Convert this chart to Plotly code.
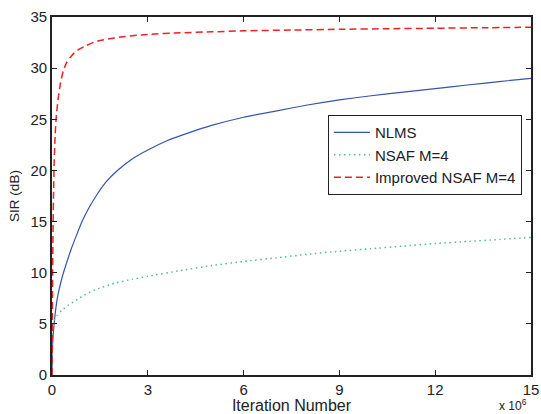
import plotly.graph_objects as go

# Iteration number (in units of 10^6) and SIR in dB for each algorithm
nlms_iter = [0, 0.01, 0.03, 0.06, 0.1, 0.16, 0.24, 0.34, 0.46, 0.6, 0.76, 0.94, 1.15, 1.4, 1.7, 2.05,
             2.5, 3, 3.6, 4.3, 5, 6, 7, 8, 9, 10, 11, 12, 13, 14, 15]
nlms_sir = [0, 2.2, 3.6, 4.8, 6.0, 7.4, 8.6, 9.8, 11.0, 12.3, 13.6, 15.0, 16.3, 17.6, 18.9, 20.0,
            21.1, 22.0, 22.9, 23.7, 24.4, 25.2, 25.8, 26.4, 26.9, 27.3, 27.65, 28.0, 28.35, 28.68, 29.0]

nsaf_iter = [0, 0.02, 0.06, 0.15, 0.3, 0.5, 0.75, 1.0, 1.4, 2, 2.5, 3, 4, 5, 6, 7, 8, 9, 10, 11, 12, 13, 14, 15]
nsaf_sir = [0, 4.6, 5.3, 5.8, 6.3, 6.8, 7.3, 7.8, 8.4, 9.0, 9.35, 9.65, 10.2, 10.7, 11.1, 11.45, 11.8,
            12.1, 12.35, 12.6, 12.85, 13.05, 13.25, 13.45]

imp_iter = [0, 0.01, 0.02, 0.035, 0.05, 0.07, 0.1, 0.14, 0.2, 0.27, 0.35, 0.45, 0.56, 0.7, 0.85, 1.03,
            1.25, 1.5, 1.85, 2.3, 3, 4, 5, 6, 7.5, 9, 10.5, 12, 13.5, 15]
imp_sir = [0, 5, 10, 15, 18, 21, 23.6, 25.5, 27.2, 28.6, 29.7, 30.5, 31.0, 31.5, 31.85, 32.15,
           32.45, 32.7, 32.9, 33.1, 33.3, 33.45, 33.55, 33.65, 33.72, 33.8, 33.85, 33.9, 33.95, 34.0]

x_ticks = [0, 3, 6, 9, 12, 15]
y_ticks = [0, 5, 10, 15, 20, 25, 30, 35]

FONT = "Liberation Sans, Arial, Helvetica, sans-serif"
INK = "#222222"

fig = go.Figure()
fig.add_trace(go.Scatter(
    x=nlms_iter, y=nlms_sir, mode="lines", name="NLMS",
    line=dict(color="#3355aa", width=1.2, shape="spline", smoothing=0.5),
))
fig.add_trace(go.Scatter(
    x=nsaf_iter, y=nsaf_sir, mode="lines", name="NSAF M=4",
    line=dict(color="#55b8a0", width=1.5, dash="1.5px,3.5px", shape="spline", smoothing=0.5),
))
fig.add_trace(go.Scatter(
    x=imp_iter, y=imp_sir, mode="lines", name="Improved NSAF M=4",
    line=dict(color="#ee2222", width=1.5, dash="7px,4px", shape="spline", smoothing=0.5),
))

axis_common = dict(
    showgrid=False, zeroline=False, automargin=False,
    showline=True, linecolor=INK, linewidth=1.6, mirror="ticks",
    ticks="inside", ticklen=5, tickcolor=INK, tickwidth=1,
    tickfont=dict(family=FONT, size=15, color=INK),
)

fig.update_xaxes(
    range=[0, 15], tickvals=x_ticks, ticktext=[str(v) for v in x_ticks],
    title=dict(text="Iteration Number", font=dict(family=FONT, size=16, color=INK), standoff=0),
    **axis_common,
)
fig.update_yaxes(
    range=[0, 35], tickvals=y_ticks, ticktext=[str(v) for v in y_ticks],
    title=dict(text="SIR (dB)", font=dict(family=FONT, size=13.5, color=INK), standoff=8),
    **axis_common,
)

# Scale factor of the iteration axis
fig.add_annotation(
    xref="paper", yref="paper", x=0.962, y=-0.112,
    xanchor="center", yanchor="bottom", showarrow=False,
    text="x 10<sup>6</sup>", font=dict(family=FONT, size=12, color=INK),
)

fig.update_layout(
    width=541, height=414,
    margin=dict(l=52, r=10, t=17, b=39),
    paper_bgcolor="white", plot_bgcolor="white",
    showlegend=True,
    legend=dict(
        x=0.576, y=0.726, xanchor="left", yanchor="top",
        bordercolor=INK, borderwidth=1, bgcolor="white",
        font=dict(family=FONT, size=15, color=INK),
        tracegroupgap=0, itemwidth=36,
    ),
)

fig.write_html("out.html")
